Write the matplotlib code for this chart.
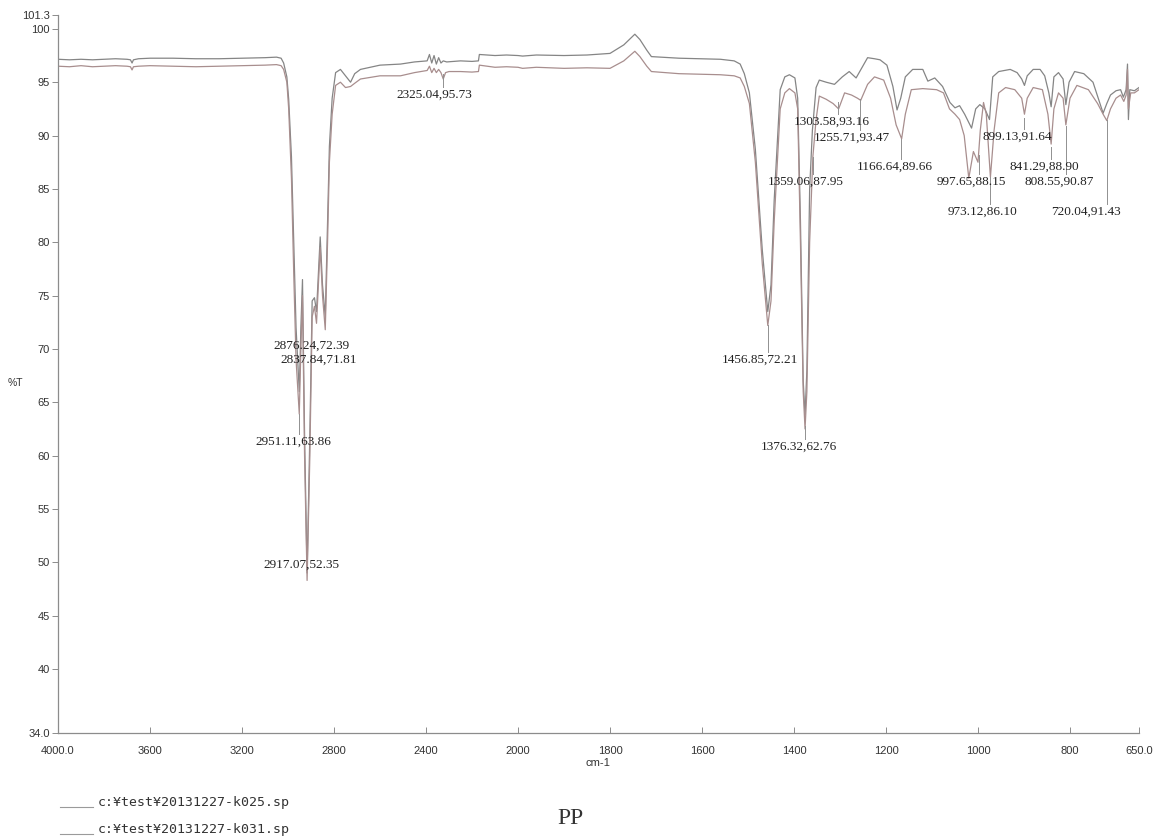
import numpy as np
import matplotlib
matplotlib.use("Agg")
import matplotlib.pyplot as plt

# ---------------- data ----------------
wn_upper = [4000, 3950, 3900, 3850, 3800, 3750, 3700, 3685, 3678, 3672, 3650, 3600, 3500, 3400, 3300,
            3200, 3100, 3050, 3030, 3019, 3005, 2997, 2985, 2975, 2965, 2951, 2944, 2937, 2928, 2917,
            2905, 2895, 2885, 2876, 2868, 2860, 2850, 2838, 2828, 2820, 2808, 2793, 2772, 2750, 2728,
            2710, 2685, 2600, 2511, 2450, 2395, 2385, 2375, 2365, 2355, 2345, 2335, 2325, 2310, 2250,
            2200, 2172, 2168, 2100, 2050, 2000, 1990, 1960, 1900, 1850, 1800, 1770, 1746, 1735, 1720,
            1710, 1650, 1600, 1560, 1530, 1517, 1508, 1497, 1484, 1469, 1457, 1450, 1443, 1438, 1430,
            1420, 1410, 1398, 1392, 1386, 1380, 1376, 1372, 1366, 1360, 1352, 1345, 1330, 1312, 1295,
            1280, 1265, 1240, 1225, 1213, 1198, 1185, 1176, 1168, 1158, 1142, 1120, 1109, 1094, 1077,
            1061, 1050, 1040, 1029, 1014, 1005, 996, 985, 975, 968, 955, 930, 915, 905, 899,
            893, 880, 865, 855, 846, 841, 835, 825, 815, 809, 802, 790, 770, 750, 735,
            728, 720, 712, 700, 690, 684, 678, 675, 673, 670, 660, 650]
t_upper = [97.15, 97.1, 97.15, 97.1, 97.15, 97.2, 97.15, 97.1, 96.8, 97.1, 97.2, 97.25, 97.25, 97.2, 97.2,
           97.25, 97.3, 97.35, 97.25, 96.8, 95.5, 93.4, 88.0, 80.0, 72.0, 66.0, 72.0, 76.5, 62.0, 49.0,
           62.0, 74.5, 74.8, 73.5, 77.0, 80.5, 76.0, 73.0, 82.0, 89.0, 93.5, 95.9, 96.2, 95.6, 95.0,
           95.8, 96.2, 96.6, 96.7, 96.9, 97.0, 97.6, 96.8, 97.5, 96.7, 97.3, 96.8, 97.0, 96.9, 97.0,
           96.95, 97.0, 97.6, 97.5, 97.55, 97.5, 97.45, 97.55, 97.5, 97.55, 97.7, 98.5, 99.5, 99.0, 98.0,
           97.4, 97.25, 97.2, 97.15, 97.0, 96.7, 95.8, 94.0, 88.7, 79.3, 73.5, 76.0, 84.0, 88.0, 94.3,
           95.5, 95.7, 95.4, 93.5, 82.0, 67.0, 63.8, 68.0, 85.0, 90.5, 94.5, 95.2, 95.0, 94.8, 95.5,
           96.0, 95.4, 97.3, 97.2, 97.1, 96.6, 94.6, 92.4, 93.5, 95.5, 96.2, 96.2, 95.1, 95.4, 94.6,
           93.1, 92.6, 92.8, 92.0, 90.7, 92.5, 92.9, 92.5, 91.5, 95.5, 96.0, 96.2, 95.9, 95.3, 94.7,
           95.6, 96.2, 96.2, 95.6, 94.0, 92.7, 95.5, 95.9, 95.3, 92.9, 95.0, 96.0, 95.8, 95.0, 93.0,
           92.1, 93.0, 93.8, 94.2, 94.3, 93.6, 94.3, 96.7, 91.5, 94.3, 94.2, 94.5]

wn_lower = [4000, 3950, 3900, 3850, 3800, 3750, 3700, 3685, 3678, 3672, 3650, 3600, 3500, 3400, 3300,
            3200, 3100, 3050, 3030, 3019, 3005, 2997, 2985, 2975, 2965, 2951, 2944, 2937, 2928, 2917,
            2905, 2895, 2885, 2876, 2868, 2860, 2850, 2838, 2828, 2820, 2808, 2793, 2772, 2750, 2728,
            2710, 2685, 2600, 2511, 2450, 2395, 2385, 2375, 2365, 2355, 2345, 2335, 2325, 2315, 2300,
            2250, 2200, 2172, 2168, 2100, 2050, 2000, 1990, 1960, 1900, 1850, 1800, 1770, 1746, 1735,
            1720, 1710, 1650, 1600, 1560, 1530, 1517, 1508, 1497, 1484, 1469, 1457, 1450, 1443, 1438,
            1430, 1420, 1410, 1398, 1392, 1386, 1380, 1376, 1372, 1366, 1359, 1352, 1345, 1330, 1315,
            1303, 1290, 1275, 1262, 1255, 1240, 1225, 1205, 1190, 1178, 1166, 1158, 1145, 1120, 1090,
            1075, 1062, 1050, 1040, 1030, 1020, 1010, 1000, 995, 988, 982, 973, 965, 955, 940,
            920, 905, 899, 893, 880, 860, 848, 841, 835, 825, 815, 809, 800, 785, 760,
            740, 728, 720, 712, 700, 690, 683, 678, 675, 673, 668, 660, 650]
t_lower = [96.5, 96.45, 96.55, 96.45, 96.5, 96.55, 96.5, 96.45, 96.15, 96.45, 96.5, 96.55, 96.5, 96.45, 96.5,
           96.55, 96.6, 96.65, 96.55, 96.2, 95.0, 92.5, 86.0, 77.0, 69.0, 63.9, 70.0, 75.0, 60.0, 48.3,
           60.0, 73.0, 74.0, 72.4, 76.0, 79.5, 75.0, 71.8, 80.0, 87.5, 92.0, 94.7, 95.0, 94.5, 94.6,
           94.9, 95.3, 95.6, 95.6, 95.9, 96.1, 96.5, 95.9, 96.3, 95.9, 96.2, 95.9, 95.3, 95.9, 96.0,
           96.0, 95.95, 96.0, 96.6, 96.4, 96.45, 96.4, 96.3, 96.4, 96.3, 96.35, 96.3, 97.0, 97.9, 97.4,
           96.5, 96.0, 95.8, 95.75, 95.7, 95.6, 95.4, 94.6, 93.0, 87.5, 78.0, 72.2, 74.5, 82.0, 86.0,
           92.5, 94.0, 94.4, 94.0, 92.5, 80.0, 66.0, 62.5, 66.0, 80.0, 88.0, 91.5, 93.7, 93.4, 93.0,
           92.5, 94.0, 93.8, 93.5, 93.3, 94.8, 95.5, 95.2, 93.5, 91.0, 89.7, 92.0, 94.3, 94.4, 94.3,
           94.0, 92.5, 92.0, 91.5, 90.0, 86.0, 88.5, 87.5, 90.5, 93.1, 92.0, 86.1, 90.5, 94.0, 94.5,
           94.3, 93.5, 92.0, 93.5, 94.5, 94.3, 92.0, 89.2, 92.5, 94.0, 93.5, 91.0, 93.5, 94.7, 94.3,
           93.0, 92.0, 91.4, 92.5, 93.5, 93.8, 93.2, 93.8, 96.2, 92.5, 94.0, 94.0, 94.3]

peak_wn = [2325.04, 2876.24, 2837.84, 2951.11, 2917.07, 1456.85, 1376.32, 1359.06, 1303.58,
           1255.71, 1166.64, 997.65, 973.12, 899.13, 841.29, 808.55, 720.04]
peak_t = [95.73, 72.39, 71.81, 63.86, 52.35, 72.21, 62.76, 87.95, 93.16,
          93.47, 89.66, 88.15, 86.10, 91.64, 88.90, 90.87, 91.43]
peak_text = ["2325.04,95.73", "2876.24,72.39", "2837.84,71.81", "2951.11,63.86", "2917.07,52.35",
             "1456.85,72.21", "1376.32,62.76", "1359.06,87.95", "1303.58,93.16", "1255.71,93.47",
             "1166.64,89.66", "997.65,88.15", "973.12,86.10", "899.13,91.64", "841.29,88.90",
             "808.55,90.87", "720.04,91.43"]

xtick_vals = [4000, 3600, 3200, 2800, 2400, 2000, 1800, 1600, 1400, 1200, 1000, 800, 650]
xtick_labels = ["4000.0", "3600", "3200", "2800", "2400", "2000", "1800", "1600", "1400",
                "1200", "1000", "800", "650.0"]
ytick_vals = [34.0, 40, 45, 50, 55, 60, 65, 70, 75, 80, 85, 90, 95, 100, 101.3]
ytick_labels = ["34.0", "40", "45", "50", "55", "60", "65", "70", "75", "80", "85", "90", "95",
                "100", "101.3"]
legend_files = ["c:¥test¥20131227-k025.sp", "c:¥test¥20131227-k031.sp"]
sample_name = "PP"

# ---------------- layout (text positions of peak labels, data coords) ----------------
label_pos = [(2363, 93.8), (2898, 70.3), (2868, 68.96), (2977, 61.28), (2942, 49.75),
             (1474.6, 68.96), (1389.8, 60.8), (1374.6, 85.65), (1318, 91.27), (1274.5, 89.77),
             (1181, 87.05), (1013.5, 85.65), (989.6, 82.84), (915.6, 89.86), (856.8, 87.05),
             (824.2, 85.65), (765.5, 82.84)]
draw_connector = [True, False, False, True, False, True, True, True, True, True,
                  True, True, True, True, True, True, True]


def fwd(x):
    x = np.asarray(x, dtype=float)
    return np.where(x > 2000, 2000 + (x - 2000) / 2.0, x)


def inv(u):
    u = np.asarray(u, dtype=float)
    return np.where(u > 2000, 2000 + 2.0 * (u - 2000), u)


W, H = 1159, 838
fig = plt.figure(figsize=(W / 100, H / 100), dpi=100)
ax = fig.add_axes([58 / W, 1 - 733 / H, 1081 / W, 718 / H])
ax.set_xscale("function", functions=(fwd, inv))
ax.set_xlim(4000, 650)
ax.set_ylim(34.0, 101.3)

ax.plot(wn_upper, t_upper, color="#858585", lw=0.9)
ax.plot(wn_lower, t_lower, color="#a88e8e", lw=0.9)

for i, (w, t, s) in enumerate(zip(peak_wn, peak_t, peak_text)):
    tx, ty = label_pos[i]
    ax.text(tx, ty, s, ha="center", va="center", fontsize=9.5,
            family="Liberation Serif", color="#222222")
    if draw_connector[i]:
        ax.plot([w, w], [ty + 0.75, t], color="#909090", lw=0.7)

for side in ["top", "right"]:
    ax.spines[side].set_visible(False)
for side in ["left", "bottom"]:
    ax.spines[side].set_color("#8c8c8c")
    ax.spines[side].set_linewidth(0.9)

ax.set_xticks(xtick_vals)
ax.set_xticklabels(xtick_labels)
ax.set_yticks(ytick_vals)
ax.set_yticklabels(ytick_labels)
ax.minorticks_off()
ax.tick_params(axis="x", direction="in", length=4, width=0.7, color="#8c8c8c",
               labelsize=8, pad=9, labelcolor="#333333")
ax.tick_params(axis="y", direction="out", length=4, width=0.7, color="#8c8c8c",
               labelsize=8, pad=2, labelcolor="#333333")
for lab in ax.get_xticklabels() + ax.get_yticklabels():
    lab.set_family("Liberation Sans")

fig.text(598 / W, 1 - 763 / H, "cm-1", ha="center", va="center", fontsize=8,
         family="Liberation Sans", color="#333333")
fig.text(15 / W, 1 - 383 / H, "%T", ha="center", va="center", fontsize=7.5,
         family="Liberation Sans", color="#333333")

leg_y = [802, 829]
for yy, name in zip(leg_y, legend_files):
    fig.add_artist(plt.Line2D([60 / W, 93 / W], [1 - (yy + 5) / H, 1 - (yy + 5) / H],
                              color="#9a9a9a", lw=0.8))
    fig.text(98 / W, 1 - yy / H, name, ha="left", va="center", fontsize=9.5,
             family="DejaVu Sans Mono", color="#333333")

fig.text(570 / W, 1 - 818 / H, sample_name, ha="center", va="center", fontsize=17,
         family="Liberation Serif", color="#333333")

fig.savefig("out.png", dpi=100)
